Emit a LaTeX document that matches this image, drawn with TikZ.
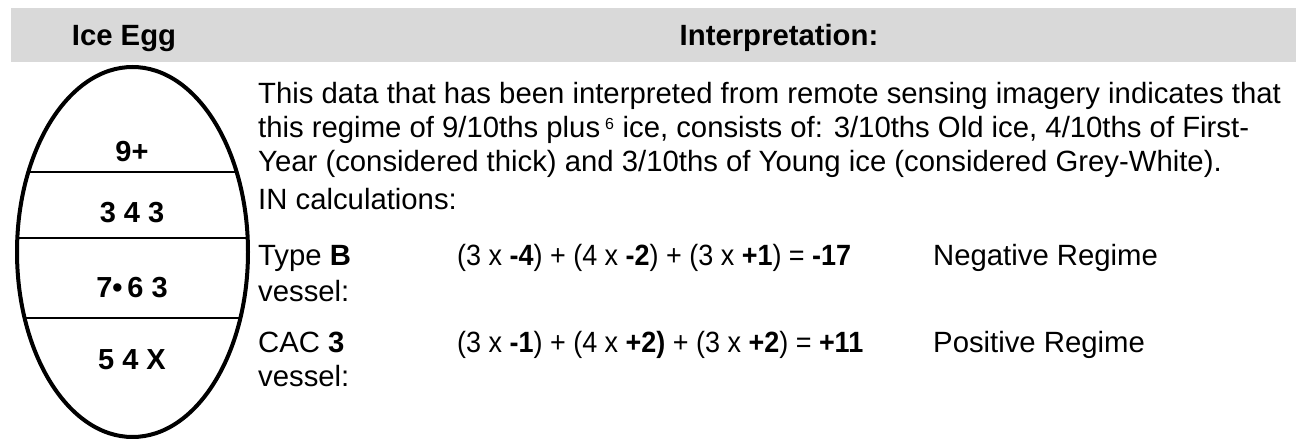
\documentclass[tikz,border=0pt]{standalone}
\usepackage{fontspec}
\setmainfont{Liberation Sans}
\newfontfamily\narrowfont[FakeStretch=0.92]{Liberation Sans}
\definecolor{hdrgray}{HTML}{D9D9D9}
\begin{document}
\begin{tikzpicture}[x=1bp,y=-1bp,
  body/.style={anchor=base west,inner sep=0pt,font=\fontsize{29.3bp}{34bp}\selectfont},
  formula/.style={anchor=base west,inner sep=0pt,font=\fontsize{29.3bp}{34bp}\narrowfont},
  hdr/.style={anchor=base,inner sep=0pt,font=\fontsize{29.3bp}{34bp}\selectfont\bfseries},
  egglbl/.style={anchor=base,inner sep=0pt,font=\fontsize{29bp}{30bp}\selectfont\bfseries},
  divider/.style={line width=1.4bp}]
\useasboundingbox (0,0) rectangle (1296,439);
\fill[hdrgray] (11,8) rectangle (1296,62);
\node[hdr] (h1) at (124,46) {Ice Egg};
\node[hdr] (h2) at (779,46) {Interpretation:};
% egg
\begin{scope}
  \clip (132.5,252) ellipse [x radius=115.5, y radius=185];
  \draw[divider] (0,172) -- (300,172);
  \draw[divider] (0,238) -- (300,238);
  \draw[divider] (0,318) -- (300,318);
\end{scope}
\draw[line width=4bp] (132.5,252) ellipse [x radius=115.5, y radius=185];
\node[egglbl] (e1) at (132,162) {9+};
\node[egglbl] (e2) at (132,223) {3 4 3};
\node[egglbl] (e3) at (132,298) {7•\,6 3};
\node[egglbl] (e4) at (132,370) {5 4 X};
% paragraph
\node[body] (p1) at (258,104) {This data that has been interpreted from remote sensing imagery indicates that};
\node[body] (p2) at (258,138) {this regime of 9/10ths plus\,\textsuperscript{\fontsize{16bp}{16bp}\selectfont 6} ice, consists of: 3/10ths Old ice, 4/10ths of First-};
\node[body] (p3) at (258,172) {Year (considered thick) and 3/10ths of Young ice (considered Grey-White).};
\node[body] (p4) at (258,210) {IN calculations:};
\node[body] (t1) at (258,266) {Type \textbf{B}};
\node[body] (t2) at (258,302) {vessel:};
\node[body] (c1) at (258,353) {CAC \textbf{3}};
\node[body] (c2) at (258,387) {vessel:};
\node[formula] (f1) at (457,266) {(3 x \textbf{-4}) + (4 x \textbf{-2}) + (3 x \textbf{+1}) = \textbf{-17}};
\node[formula] (f2) at (457,353) {(3 x \textbf{-1}) + (4 x \textbf{+2)} + (3 x \textbf{+2}) = \textbf{+11}};
\node[body] (r1) at (933,266) {Negative Regime};
\node[body] (r2) at (933,353) {Positive Regime};
\end{tikzpicture}
\end{document}
